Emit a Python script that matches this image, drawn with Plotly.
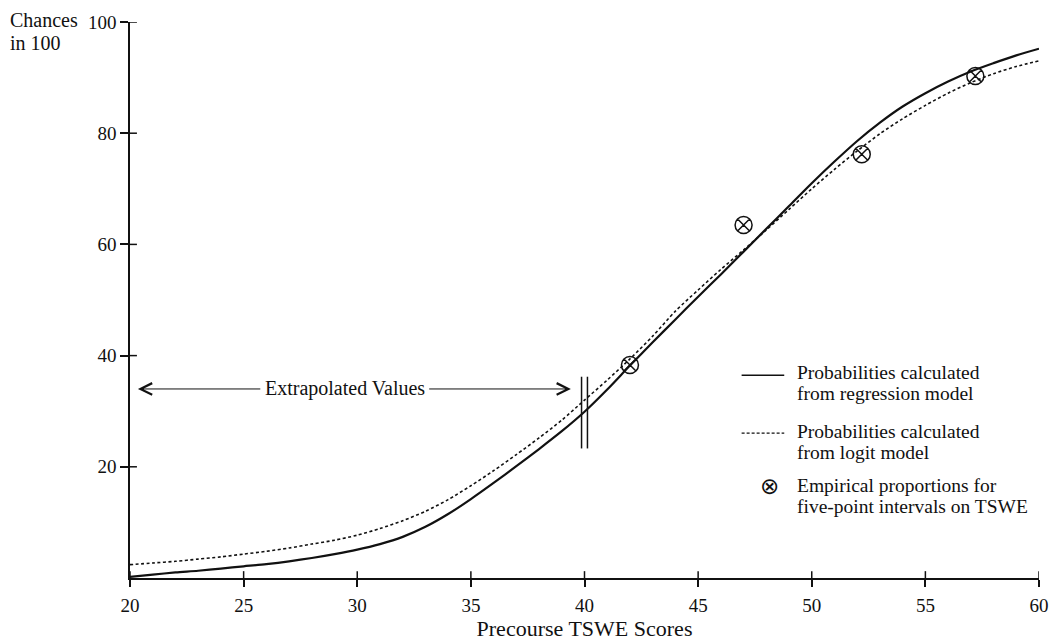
import plotly.graph_objects as go

# ---------------- data ----------------
scores = list(range(20, 61))
regression = [0.2, 0.6, 1.0, 1.3, 1.7, 2.1, 2.5, 3.0, 3.6, 4.3,
              5.1, 6.1, 7.4, 9.2, 11.5, 14.2, 17.1, 20.1, 23.2, 26.4,
              29.9, 33.9, 38.2, 42.4, 46.5, 50.6, 54.6, 58.7, 62.8, 66.9,
              71.0, 74.9, 78.6, 81.9, 84.8, 87.2, 89.3, 91.1, 92.6, 94.0,
              95.2]
logit = [2.4, 2.7, 3.0, 3.4, 3.8, 4.3, 4.8, 5.4, 6.1, 6.8,
         7.7, 8.9, 10.3, 12.0, 14.1, 16.6, 19.3, 22.2, 25.2, 28.4,
         32.0, 35.6, 39.4, 43.5, 48.0, 51.8, 55.5, 59.0, 62.6, 66.3,
         70.0, 73.5, 76.8, 79.9, 82.6, 85.0, 87.2, 89.1, 90.7, 92.0,
         93.0]
emp_scores = [42.0, 47.0, 52.2, 57.2]
emp_props = [38.3, 63.5, 76.2, 90.3]

x_ticks = [20, 25, 30, 35, 40, 45, 50, 55, 60]
y_ticks = [20, 40, 60, 80, 100]

legend_rows = [
    ("Probabilities calculated", "from regression model"),
    ("Probabilities calculated", "from logit model"),
    ("Empirical proportions for", "five-point intervals on TSWE"),
]

FONT = "Liberation Serif, Times New Roman, serif"
INK = "#111111"

# ---------------- figure ----------------
fig = go.Figure()
fig.add_trace(go.Scatter(x=scores, y=regression, mode="lines",
                         line=dict(color=INK, width=2.2, shape="spline", smoothing=0.8),
                         showlegend=False, hoverinfo="skip"))
fig.add_trace(go.Scatter(x=scores, y=logit, mode="lines",
                         line=dict(color=INK, width=1.6, dash="3px,2.5px",
                                   shape="spline", smoothing=0.8),
                         showlegend=False, hoverinfo="skip"))
fig.add_trace(go.Scatter(x=emp_scores, y=emp_props, mode="markers",
                         marker=dict(symbol="circle-x-open", size=17,
                                     color=INK, line=dict(width=1.5, color=INK)),
                         showlegend=False, hoverinfo="skip"))

L, R, T, B = 130, 14, 17, 58
W, H = 1061, 643
pw, ph = W - L - R, H - T - B


def px_x(p):
    return (p - L) / pw


def px_y(p):
    return (H - B - p) / ph


axis_common = dict(showgrid=False, zeroline=False, showline=True,
                   linecolor=INK, linewidth=1.5, tickcolor=INK, tickwidth=1.5,
                   tickfont=dict(family=FONT, size=19, color=INK))

fig.update_layout(
    width=W, height=H,
    margin=dict(l=L, r=R, t=T, b=B, pad=0),
    paper_bgcolor="white", plot_bgcolor="white",
    font=dict(family=FONT, color=INK),
    xaxis=dict(range=[20, 60], tickmode="array", tickvals=x_ticks,
               ticks="outside", ticklen=7, ticklabelstandoff=2,
               title=dict(text="Precourse TSWE Scores",
                          font=dict(family=FONT, size=22, color=INK),
                          standoff=0),
               **axis_common),
    yaxis=dict(range=[0, 100], tickmode="array", tickvals=y_ticks,
               ticks="outside", ticklen=8, **axis_common),
)

ann = []
# y axis caption
ann.append(dict(text="Chances", xref="paper", yref="paper", x=px_x(7), y=px_y(15),
                xanchor="left", yanchor="middle", showarrow=False,
                font=dict(family=FONT, size=20, color=INK)))
ann.append(dict(text="in 100", xref="paper", yref="paper", x=px_x(7), y=px_y(38),
                xanchor="left", yanchor="middle", showarrow=False,
                font=dict(family=FONT, size=20, color=INK)))

# extrapolated values label with arrows
ext_y = 34.0
ann.append(dict(text="Extrapolated Values", x=29.45, y=ext_y, xref="x", yref="y",
                showarrow=False, font=dict(family=FONT, size=20, color=INK)))
ann.append(dict(text="", x=20.35, y=ext_y, ax=25.8, ay=ext_y, xref="x", yref="y",
                axref="x", ayref="y", showarrow=True, arrowhead=5, arrowsize=2.3,
                arrowwidth=1, arrowcolor=INK))
ann.append(dict(text="", x=39.4, y=ext_y, ax=33.1, ay=ext_y, xref="x", yref="y",
                axref="x", ayref="y", showarrow=True, arrowhead=5, arrowsize=2.3,
                arrowwidth=1, arrowcolor=INK))

# legend text rows
row_px = [(375, 397), (435, 457), (490, 512)]
for (l1, l2), (p1, p2) in zip(legend_rows, row_px):
    for txt, p in ((l1, p1), (l2, p2)):
        ann.append(dict(text=txt, xref="paper", yref="paper", x=px_x(802), y=px_y(p),
                        xanchor="left", yanchor="middle", showarrow=False,
                        borderpad=0,
                        font=dict(family=FONT, size=19.5, color=INK)))
# legend symbol for empirical proportions
ann.append(dict(text="\u2297", xref="paper", yref="paper", x=px_x(775), y=px_y(491),
                xanchor="center", yanchor="middle", showarrow=False,
                font=dict(family="DejaVu Sans", size=23, color=INK)))
fig.update_layout(annotations=ann)

shapes = []
# inner halves of the crossing tick marks (ticks cross the axis lines)
for xt in x_ticks:
    shapes.append(dict(type="line", xref="x", yref="paper", x0=xt, x1=xt,
                       y0=0, y1=7 / ph, line=dict(color=INK, width=1.5)))
for yt in y_ticks:
    shapes.append(dict(type="line", xref="paper", yref="y", x0=0, x1=7 / pw,
                       y0=yt, y1=yt, line=dict(color=INK, width=1.5)))
# break marks at score 40
for xb in (39.87, 40.13):
    shapes.append(dict(type="line", xref="x", yref="y", x0=xb, x1=xb, y0=23.3, y1=36.2,
                       line=dict(color=INK, width=1.5)))
# legend line samples
shapes.append(dict(type="line", xref="paper", yref="paper", x0=px_x(747), x1=px_x(790),
                   y0=px_y(378), y1=px_y(378), line=dict(color=INK, width=1.5)))
shapes.append(dict(type="line", xref="paper", yref="paper", x0=px_x(747), x1=px_x(790),
                   y0=px_y(437), y1=px_y(437),
                   line=dict(color=INK, width=1.2, dash="3px,2px")))
fig.update_layout(shapes=shapes)

fig.write_html("out.html")
